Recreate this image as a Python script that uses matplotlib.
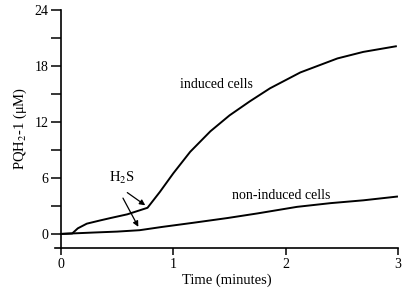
import matplotlib
matplotlib.use("Agg")
import matplotlib.pyplot as plt

# data
t_induced = [0.0, 0.1, 0.15, 0.23, 0.35, 0.44, 0.59, 0.77, 0.88, 1.0, 1.15, 1.33,
             1.5, 1.68, 1.86, 2.13, 2.46, 2.69, 2.98]
v_induced = [0.0, 0.05, 0.6, 1.1, 1.45, 1.7, 2.1, 2.8, 4.5, 6.5, 8.8, 11.0,
             12.7, 14.2, 15.6, 17.3, 18.8, 19.5, 20.1]
t_noninduced = [0.0, 0.29, 0.5, 0.7, 0.9, 1.18, 1.48, 1.75, 2.1, 2.4, 2.69, 2.99]
v_noninduced = [0.0, 0.15, 0.25, 0.4, 0.75, 1.2, 1.7, 2.2, 2.9, 3.3, 3.6, 4.0]

y_major = [0, 6, 12, 18, 24]
y_minor = [3, 9, 15, 21]
x_ticks = [0, 1, 2, 3]

plt.rcParams["font.family"] = ["Liberation Serif", "DejaVu Serif"]
plt.rcParams["mathtext.fontset"] = "stix"

fig = plt.figure(figsize=(4.10, 2.91), dpi=100)
ax = fig.add_axes([0.135, 0.148, 0.836, 0.818])

ax.plot(t_induced, v_induced, color="black", linewidth=1.4)
ax.plot(t_noninduced, v_noninduced, color="black", linewidth=1.4)

ax.set_xlim(-0.05, 3.0)
ax.set_ylim(-1.5, 24)

ax.spines["top"].set_visible(False)
ax.spines["right"].set_visible(False)
ax.spines["left"].set_position(("data", 0))
ax.spines["left"].set_bounds(-1.5, 24)
for s in ["left", "bottom"]:
    ax.spines[s].set_linewidth(1.2)

ax.set_yticks(y_major)
ax.set_yticks(y_minor, minor=True)
ax.set_xticks(x_ticks)
ax.tick_params(axis="y", which="both", direction="out", length=7, width=1.1, labelsize=10, pad=2)
ax.tick_params(axis="x", direction="out", length=5, width=1.1, labelsize=10, pad=2)

ax.set_xlabel("Time (minutes)", fontsize=10.5, labelpad=2)
ax.set_ylabel("PQH$_2$-1 (μM)", fontsize=10.5, labelpad=4)

ax.text(1.06, 16.0, "induced cells", fontsize=10, va="center", ha="left")
ax.text(1.52, 4.1, "non-induced cells", fontsize=10, va="center", ha="left")
ax.text(0.54, 6.0, "H$_2$S", fontsize=10.5, va="center", ha="center")

arrow = dict(arrowstyle="-|>", color="black", lw=0.9, mutation_scale=8)
ax.annotate("", xy=(0.77, 2.9), xytext=(0.57, 4.6), arrowprops=arrow)
ax.annotate("", xy=(0.70, 0.5), xytext=(0.54, 4.1), arrowprops=arrow)

fig.savefig("out.png", dpi=100)
